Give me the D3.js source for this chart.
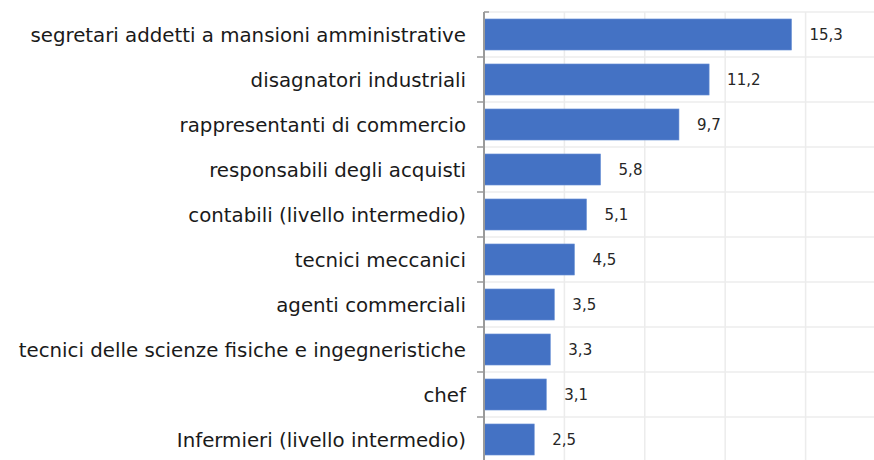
<!DOCTYPE html>
<html>
<head>
<meta charset="utf-8">
<script src="https://cdn.jsdelivr.net/npm/d3@7"></script>
<style>
  body { margin: 0; background: #fff; }
  text { font-family: "Century Gothic", "DejaVu Sans", sans-serif; }
</style>
</head>
<body>
<svg id="chart"></svg>
<script>
var categories = [
  "segretari addetti a mansioni amministrative",
  "disagnatori industriali",
  "rappresentanti di commercio",
  "responsabili degli acquisti",
  "contabili (livello intermedio)",
  "tecnici meccanici",
  "agenti commerciali",
  "tecnici delle scienze fisiche e ingegneristiche",
  "chef",
  "Infermieri (livello intermedio)"
];
var values = [15.3, 11.2, 9.7, 5.8, 5.1, 4.5, 3.5, 3.3, 3.1, 2.5];
var xTicks = [0, 4, 8, 12, 16, 20];

var w = 874, h = 460;
var svg = d3.select("#chart").attr("width", w).attr("height", h);

var x = d3.scaleLinear().domain([0, 20]).range([484, 886]);
var y = d3.scaleBand()
  .domain(categories)
  .range([12, 462])
  .paddingInner(0.31)
  .paddingOuter(0.155);

var step = y.step();
var fmt = function(v){ return d3.format(".1f")(v).replace(".", ","); };

// vertical gridlines
svg.append("g").selectAll("line")
  .data(xTicks.filter(function(d){ return d > 0; }))
  .enter().append("line")
    .attr("x1", function(d){ return x(d); })
    .attr("x2", function(d){ return x(d); })
    .attr("y1", 12).attr("y2", 462)
    .attr("stroke", "#ececec")
    .attr("stroke-width", 1.5);

// horizontal gridlines at band edges
var edges = d3.range(categories.length + 1).map(function(i){ return 12 + i*step; });
svg.append("g").selectAll("line")
  .data(edges)
  .enter().append("line")
    .attr("x1", 484).attr("x2", w)
    .attr("y1", function(d){ return d; })
    .attr("y2", function(d){ return d; })
    .attr("stroke", "#ececec")
    .attr("stroke-width", 1.5);

// bars
svg.append("g").selectAll("rect")
  .data(values)
  .enter().append("rect")
    .attr("x", x(0))
    .attr("y", function(d, i){ return y(categories[i]); })
    .attr("width", function(d){ return x(d) - x(0); })
    .attr("height", y.bandwidth())
    .attr("fill", "#4472c4")
    .attr("stroke", "#6d93d6")
    .attr("stroke-width", 0.6);

// value labels
svg.append("g").selectAll("text")
  .data(values)
  .enter().append("text")
    .attr("x", function(d){ return x(d) + 18; })
    .attr("y", function(d, i){ return y(categories[i]) + y.bandwidth()/2; })
    .attr("dy", "0.36em")
    .attr("font-size", 15)
    .attr("fill", "#262626")
    .text(fmt);

// category axis
var axis = svg.append("g");
axis.append("line")
  .attr("x1", 484).attr("x2", 484)
  .attr("y1", 12).attr("y2", 462)
  .attr("stroke", "#9a9a9a").attr("stroke-width", 2);
axis.selectAll("line.tick")
  .data(edges)
  .enter().append("line")
    .attr("class", "tick")
    .attr("x1", function(d, i){ return i === 0 ? 484 : 477; })
    .attr("x2", function(d, i){ return i === 0 ? 489 : 484; })
    .attr("y1", function(d){ return d; })
    .attr("y2", function(d){ return d; })
    .attr("stroke", "#9a9a9a").attr("stroke-width", 1.5);

axis.selectAll("text")
  .data(categories)
  .enter().append("text")
    .attr("x", 466)
    .attr("y", function(d){ return y(d) + y.bandwidth()/2; })
    .attr("dy", "0.36em")
    .attr("text-anchor", "end")
    .attr("font-size", 19.8)
    .attr("fill", "#1a1a1a")
    .text(function(d){ return d; });
</script>
</body>
</html>
